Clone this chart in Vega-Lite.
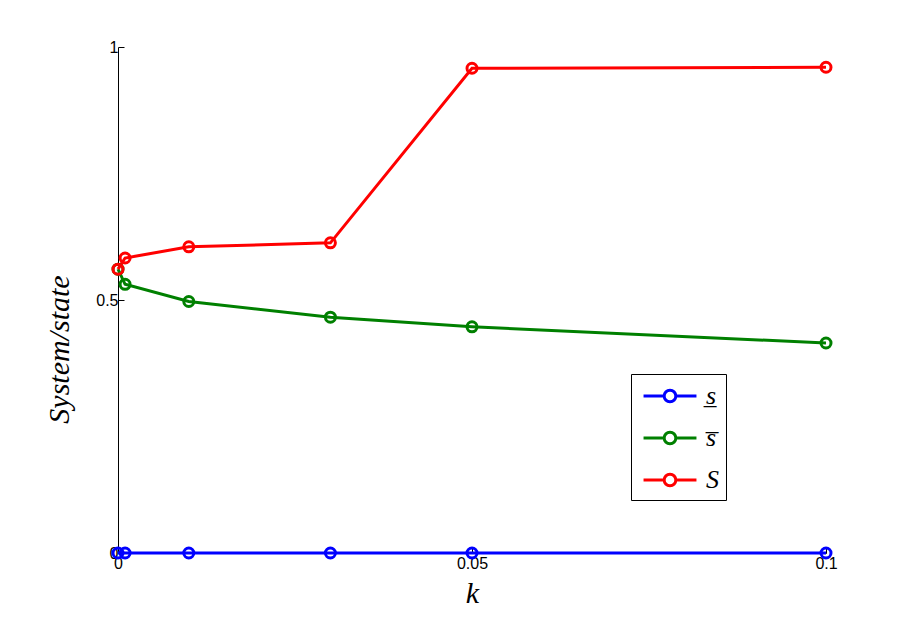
{
  "$schema": "https://vega.github.io/schema/vega-lite/v6.json",
  "width": 708,
  "height": 506,
  "padding": {"left": 118, "top": 47, "right": 87, "bottom": 70},
  "autosize": {"type": "none"},
  "background": "white",
  "config": {
    "view": {"stroke": null},
    "axis": {
      "domainColor": "black",
      "domainWidth": 1,
      "tickColor": "black",
      "tickSize": -6,
      "grid": false,
      "labelColor": "black",
      "labelFontSize": 16,
      "labelFont": "Liberation Sans",
      "titleFontStyle": "italic",
      "titleFontWeight": "normal",
      "titleColor": "black"
    }
  },
  "data": {
    "values": [
      {"k": 0, "v": 0, "series": "s̲"},
      {"k": 0.001, "v": 0, "series": "s̲"},
      {"k": 0.01, "v": 0, "series": "s̲"},
      {"k": 0.03, "v": 0, "series": "s̲"},
      {"k": 0.05, "v": 0, "series": "s̲"},
      {"k": 0.1, "v": 0, "series": "s̲"},
      {"k": 0, "v": 0.561, "series": "s̅"},
      {"k": 0.001, "v": 0.531, "series": "s̅"},
      {"k": 0.01, "v": 0.497, "series": "s̅"},
      {"k": 0.03, "v": 0.466, "series": "s̅"},
      {"k": 0.05, "v": 0.447, "series": "s̅"},
      {"k": 0.1, "v": 0.415, "series": "s̅"},
      {"k": 0, "v": 0.561, "series": "S"},
      {"k": 0.001, "v": 0.583, "series": "S"},
      {"k": 0.01, "v": 0.605, "series": "S"},
      {"k": 0.03, "v": 0.613, "series": "S"},
      {"k": 0.05, "v": 0.958, "series": "S"},
      {"k": 0.1, "v": 0.960, "series": "S"}
    ]
  },
  "encoding": {
    "x": {
      "field": "k", "type": "quantitative",
      "scale": {"domain": [0, 0.1], "nice": false, "zero": false},
      "axis": {"values": [0, 0.05, 0.1], "format": "~g", "title": "k", "titleFont": "Liberation Serif", "titleFontSize": 30, "titlePadding": 7, "labelFont": "Liberation Sans", "labelFontSize": 16, "labelPadding": 8, "labelFlush": false}
    },
    "y": {
      "field": "v", "type": "quantitative",
      "scale": {"domain": [0, 1], "nice": false},
      "axis": {"values": [0, 0.5, 1], "format": "~g", "title": "System/state", "titleFont": "Liberation Serif", "titleFontSize": 30, "titlePadding": 21, "titleY": 302, "labelFont": "Liberation Sans", "labelFontSize": 16, "labelPadding": 6, "labelFlush": false}
    },
    "color": {
      "field": "series", "type": "nominal",
      "scale": {"domain": ["s̲", "s̅", "S"], "range": ["#0000ff", "#008000", "#ff0000"]},
      "legend": {
        "title": null,
        "orient": "none",
        "legendX": 513,
        "legendY": 327,
        "strokeColor": "black",
        "fillColor": "white",
        "padding": 7,
        "rowPadding": 14,
        "symbolType": "M-2,0H-0.44M0.44,0H2M0.44,0A0.44,0.44 0 1 1 -0.44,0A0.44,0.44 0 1 1 0.44,0",
        "symbolSize": 700,
        "symbolStrokeWidth": 3,
        "symbolFillColor": "transparent",
        "symbolOffset": 17,
        "labelFont": "Liberation Serif",
        "labelFontStyle": "italic",
        "labelFontSize": 26,
        "labelOffset": 21,
        "labelExpr": "datum.label + '\u00a0\u00a0'",
        "labelColor": "black"
      }
    }
  },
  "layer": [
    {"mark": {"type": "line", "strokeWidth": 3, "clip": false}},
    {"mark": {"type": "point", "shape": "circle", "filled": false, "size": 100, "strokeWidth": 3, "opacity": 1, "clip": false}}
  ]
}
